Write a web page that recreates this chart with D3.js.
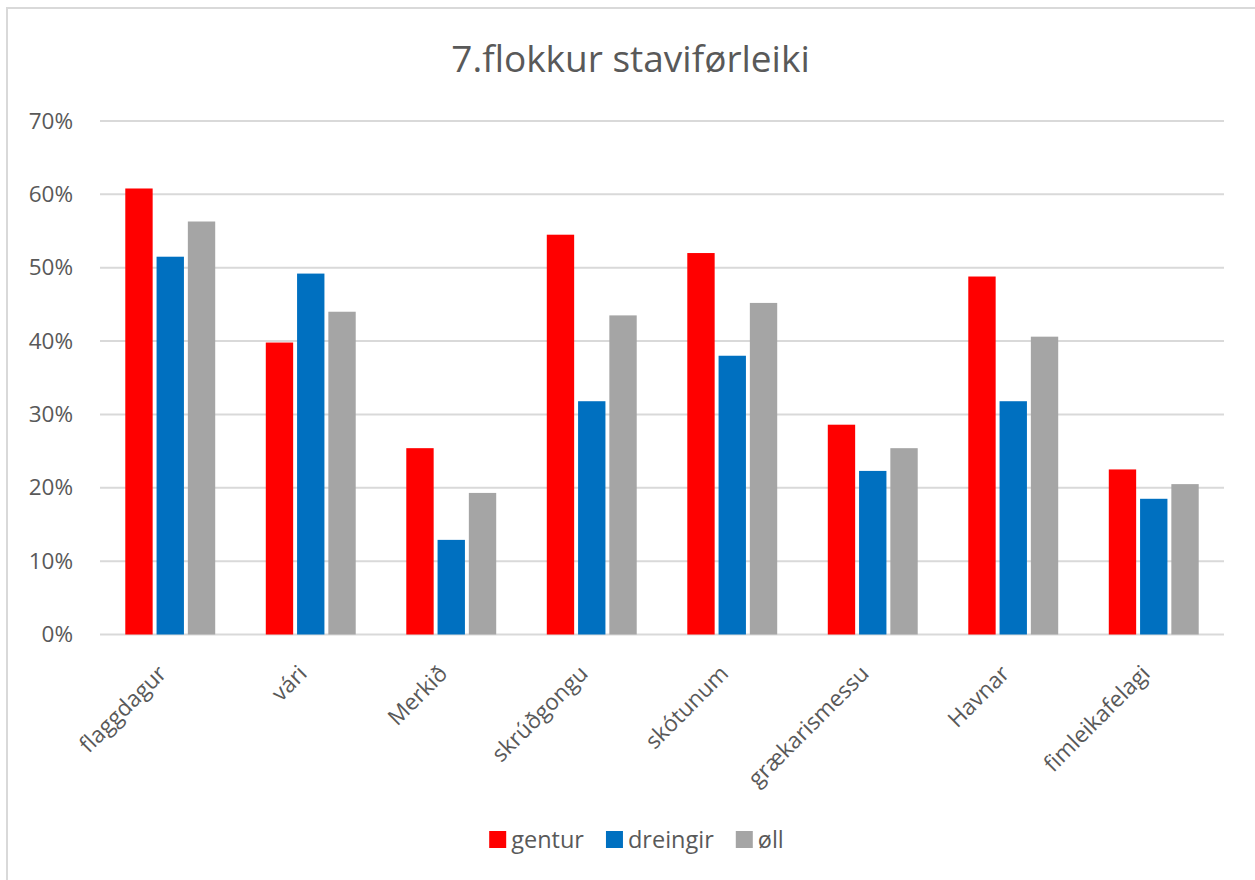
<!DOCTYPE html>
<html>
<head>
<meta charset="utf-8">
<script src="https://cdn.jsdelivr.net/npm/d3@7"></script>
<style>
    body { margin: 0; background: #fff; }
    text { font-family: "Open Sans", sans-serif; fill: #595959; }
</style>
</head>
<body>
<div id="chart"></div>
<script>
'use strict';

// Data
const categories = ["flaggdagur", "vári", "Merkið", "skrúðgongu", "skótunum", "grækarismessu", "Havnar", "fimleikafelagi"];
const seriesNames = ["gentur", "dreingir", "øll"];
const gentur   = [0.608, 0.398, 0.254, 0.545, 0.520, 0.286, 0.488, 0.225];
const dreingir = [0.515, 0.492, 0.129, 0.318, 0.380, 0.223, 0.318, 0.185];
const oll      = [0.563, 0.440, 0.193, 0.435, 0.452, 0.254, 0.406, 0.205];
const yTicks = [0, 0.1, 0.2, 0.3, 0.4, 0.5, 0.6, 0.7];
const colors = ["#FF0000", "#0070C0", "#A5A5A5"];

const width = 1255, height = 880;
const plot = { left: 100, right: 1224, top: 121, bottom: 634.5 };

const svg = d3.select("#chart")
    .append("svg")
    .attr("width", width)
    .attr("height", height);

// chart border (only top and left visible in the picture)
svg.append("rect")
    .attr("x", 7)
    .attr("y", 8)
    .attr("width", width)
    .attr("height", height)
    .attr("fill", "none")
    .attr("stroke", "#d9d9d9")
    .attr("stroke-width", 2);

// title
svg.append("text")
    .attr("x", 630.5)
    .attr("y", 72)
    .attr("text-anchor", "middle")
    .style("font-size", "37px")
    .text("7.flokkur staviførleiki");

// scales
const x = d3.scaleBand()
    .domain(categories)
    .range([plot.left, plot.right])
    .paddingInner(0.36)
    .paddingOuter(0.18);

const xSub = d3.scaleBand()
    .domain(seriesNames)
    .range([0, x.bandwidth()])
    .paddingInner(0.125);

const y = d3.scaleLinear()
    .domain([0, 0.7])
    .range([plot.bottom, plot.top]);

// gridlines
svg.append("g")
    .selectAll("line")
    .data(yTicks)
    .enter()
    .append("line")
    .attr("x1", plot.left)
    .attr("x2", plot.right)
    .attr("y1", d => y(d))
    .attr("y2", d => y(d))
    .attr("stroke", "#d9d9d9")
    .attr("stroke-width", 2);

// y axis labels
const yAxis = svg.append("g")
    .attr("class", "y-axis")
    .attr("transform", `translate(${plot.left - 27},0)`)
    .call(d3.axisLeft(y).tickValues(yTicks).tickFormat(d3.format(".0%")).tickSize(0).tickPadding(0));
yAxis.select(".domain").remove();
yAxis.selectAll("text")
    .style("font-size", "22.5px")
    .attr("fill", "#595959");

// bars
const rows = categories.map((c, i) => ({ cat: c, values: [gentur[i], dreingir[i], oll[i]] }));

svg.append("g")
    .selectAll("g")
    .data(rows)
    .enter()
    .append("g")
    .attr("transform", d => `translate(${x(d.cat)},0)`)
    .selectAll("rect")
    .data(d => d.values.map((v, j) => ({ name: seriesNames[j], value: v, j: j })))
    .enter()
    .append("rect")
    .attr("x", d => xSub(d.name))
    .attr("y", d => y(d.value))
    .attr("width", xSub.bandwidth())
    .attr("height", d => y(0) - y(d.value))
    .attr("fill", d => colors[d.j]);

// x axis labels, rotated
svg.append("g")
    .selectAll("text")
    .data(categories)
    .enter()
    .append("text")
    .attr("transform", d => `translate(${x(d) + x.bandwidth() / 2 - 8},${plot.bottom + 35}) rotate(-45)`)
    .attr("text-anchor", "end")
    .attr("dy", "0.35em")
    .style("font-size", "22.5px")
    .text(d => d);

// legend
const legend = svg.append("g").attr("class", "legend");
let lx = 0;
seriesNames.forEach((name, i) => {
    const item = legend.append("g").attr("transform", `translate(${lx},0)`);
    item.append("rect")
        .attr("x", 0)
        .attr("y", -9)
        .attr("width", 17)
        .attr("height", 17)
        .attr("fill", colors[i]);
    const t = item.append("text")
        .attr("x", 22)
        .attr("y", 8)
        .style("font-size", "23.5px")
        .text(name);
    lx += 22 + t.node().getComputedTextLength() + 22;
});
const legendWidth = lx - 22;
legend.attr("transform", `translate(${636.5 - legendWidth / 2},840)`);
</script>
</body>
</html>
